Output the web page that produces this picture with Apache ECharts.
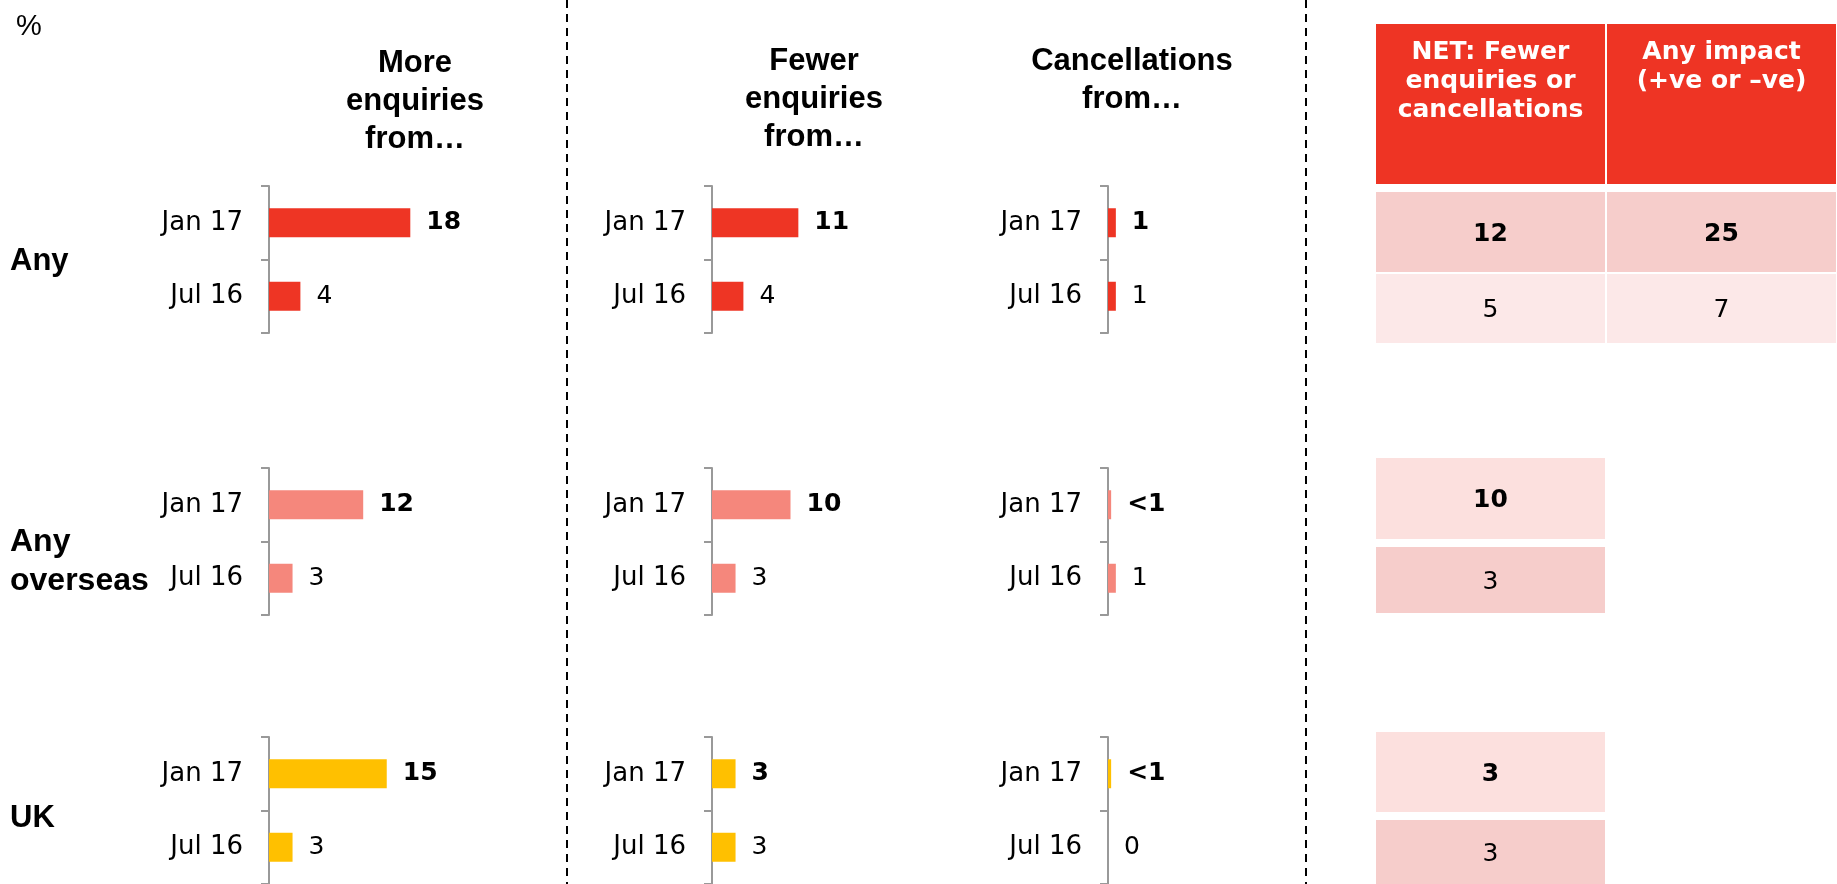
<!DOCTYPE html>
<html>
<head>
<meta charset="utf-8">
<script src="https://cdn.jsdelivr.net/npm/echarts@6/dist/echarts.min.js"></script>
<style>
html,body{margin:0;padding:0;background:#fff}
#main{width:1837px;height:884px}
</style>
</head>
<body>
<div id="main"></div>
<script>
// data
var periods = ['Jan 17', 'Jul 16'];
var groupNames = ['Any', 'Any\noverseas', 'UK'];
var panelTitles = ['More\nenquiries\nfrom…', 'Fewer\nenquiries\nfrom…', 'Cancellations\nfrom…'];

// per group: [Jan 17, Jul 16]
var moreEnq = [[18, 4], [12, 3], [15, 3]];
var fewerEnq = [[11, 4], [10, 3], [3, 3]];
var cancels = [[1, 1], [0.4, 1], [0.4, 0]];
var cancelLabels = [['1', '1'], ['<1', '1'], ['<1', '0']];

var tableHeads = ['NET: Fewer\nenquiries or\ncancellations', 'Any impact\n(+ve or \u2013ve)'];
var netFewer = [[12, 5], [10, 3], [3, 3]];
var anyImpact = [[25, 7], null, null];

// layout
var panelLeft = [269, 712, 1108];
var groupTop = [186, 468, 737];
var barColors = ['#EE3524', '#F5877C', '#FFC000'];
// table rows per group: [top, height] for Jan 17 and Jul 16
var tableRows = [[[192, 80], [274, 69]], [[458, 81], [547, 66]], [[732, 80], [820, 67]]];
var rowFills = [['#F6CDCB', '#FCE8E8'], ['#FCE0DE', '#F6CDCB'], ['#FCE0DE', '#F6CDCB']];
var axisGrey = '#999999';

var chart = echarts.init(document.getElementById('main'));

var grids = [], xAxes = [], yAxes = [], series = [];
var panelData = [moreEnq, fewerEnq, cancels];

function textOf(p, g, i) {
    if (p == 2) return cancelLabels[g][i];
    return String(panelData[p][g][i]);
}

for (var g = 0; g < 3; g++) {
    for (var p = 0; p < 3; p++) {
        var k = grids.length;
        grids.push({left: panelLeft[p], top: groupTop[g], width: 157, height: 147});
        xAxes.push({type: 'value', gridIndex: k, min: 0, max: 20, show: false});
        yAxes.push({
            type: 'category', gridIndex: k, data: periods, inverse: true,
            axisLine: {show: true, lineStyle: {color: axisGrey, width: 2}},
            axisTick: {show: true, alignWithLabel: false, inside: false, length: 8, lineStyle: {color: axisGrey, width: 2}},
            axisLabel: {margin: 26, color: '#000', fontFamily: 'DejaVu Sans', fontSize: 26}
        });
        (function (p, g) {
            series.push({
                type: 'bar', xAxisIndex: k, yAxisIndex: k, barWidth: 29,
                itemStyle: {color: barColors[g]},
                data: panelData[p][g].map(function (v, i) {
                    return {value: v, label: {fontWeight: i == 0 ? 'bold' : 'normal'}};
                }),
                label: {
                    show: true, position: 'right', distance: 16,
                    color: '#000', fontFamily: 'DejaVu Sans', fontSize: 25,
                    formatter: function (prm) { return textOf(p, g, prm.dataIndex); }
                }
            });
        })(p, g);
    }
}

// table header
var hk = grids.length;
grids.push({left: 1375, top: 24, width: 465, height: 160});
xAxes.push({type: 'category', gridIndex: hk, data: ['net', 'any'], show: false});
yAxes.push({type: 'category', gridIndex: hk, data: ['head'], show: false});
series.push({
    type: 'custom', xAxisIndex: hk, yAxisIndex: hk,
    data: [[0, 0], [1, 0]],
    renderItem: function (params, api) {
        var c = api.coord([api.value(0), api.value(1)]);
        var s = api.size([1, 1]);
        var w = s[0] - 2, h = s[1];
        return {type: 'group', children: [
            {type: 'rect', shape: {x: c[0] - w / 2, y: c[1] - h / 2, width: w, height: h}, style: {fill: '#EE3424'}},
            {type: 'text', x: c[0], y: c[1] - h / 2 + 14, style: {
                text: tableHeads[params.dataIndex], fill: '#fff', font: 'bold 25px "DejaVu Sans"',
                align: 'center', verticalAlign: 'top', lineHeight: 29
            }}
        ]};
    }
});

// table body: one grid per row
function cellRenderer(fill, bold) {
    return function (params, api) {
        var c = api.coord([api.value(0), api.value(1)]);
        var s = api.size([1, 1]);
        var w = s[0] - 2, h = s[1];
        return {type: 'group', children: [
            {type: 'rect', shape: {x: c[0] - w / 2, y: c[1] - h / 2, width: w, height: h}, style: {fill: fill}},
            {type: 'text', x: c[0], y: c[1] + 2, style: {
                text: String(api.value(2)), fill: '#000',
                font: (bold ? 'bold ' : '') + '25px "DejaVu Sans"',
                align: 'center', verticalAlign: 'middle'
            }}
        ]};
    };
}

for (var g = 0; g < 3; g++) {
    for (var r = 0; r < 2; r++) {
        var k = grids.length;
        grids.push({left: 1375, top: tableRows[g][r][0], width: 465, height: tableRows[g][r][1]});
        xAxes.push({type: 'category', gridIndex: k, data: ['net', 'any'], show: false});
        yAxes.push({type: 'category', gridIndex: k, data: [periods[r]], show: false});
        var cells = [[0, 0, netFewer[g][r]]];
        if (anyImpact[g]) cells.push([1, 0, anyImpact[g][r]]);
        series.push({
            type: 'custom', xAxisIndex: k, yAxisIndex: k, data: cells,
            renderItem: cellRenderer(rowFills[g][r], r == 0)
        });
    }
}

var dash = {stroke: '#000', lineWidth: 2, lineDash: [8, 6]};
var bold31 = 'bold 31px "Liberation Sans"';
var graphics = [
    {type: 'line', shape: {x1: 567, y1: 0, x2: 567, y2: 884}, style: dash},
    {type: 'line', shape: {x1: 1306, y1: 0, x2: 1306, y2: 884}, style: dash},
    {type: 'text', x: 16, y: 27, style: {text: '%', font: '29px "Liberation Sans"', fill: '#000', verticalAlign: 'middle'}},
    {type: 'text', x: 415, y: 44, style: {text: panelTitles[0], font: bold31, fill: '#000', align: 'center', verticalAlign: 'top', lineHeight: 38}},
    {type: 'text', x: 814, y: 42, style: {text: panelTitles[1], font: bold31, fill: '#000', align: 'center', verticalAlign: 'top', lineHeight: 38}},
    {type: 'text', x: 1132, y: 42, style: {text: panelTitles[2], font: bold31, fill: '#000', align: 'center', verticalAlign: 'top', lineHeight: 38}},
    {type: 'text', x: 10, y: 261, style: {text: groupNames[0], font: bold31, fill: '#000', verticalAlign: 'middle'}},
    {type: 'text', x: 10, y: 523, style: {text: groupNames[1], font: 'bold 32px "Liberation Sans"', fill: '#000', verticalAlign: 'top', lineHeight: 39}},
    {type: 'text', x: 10, y: 818, style: {text: groupNames[2], font: bold31, fill: '#000', verticalAlign: 'middle'}}
];

chart.setOption({
    animation: false,
    grid: grids,
    xAxis: xAxes,
    yAxis: yAxes,
    series: series,
    graphic: {elements: graphics}
});
</script>
</body>
</html>
